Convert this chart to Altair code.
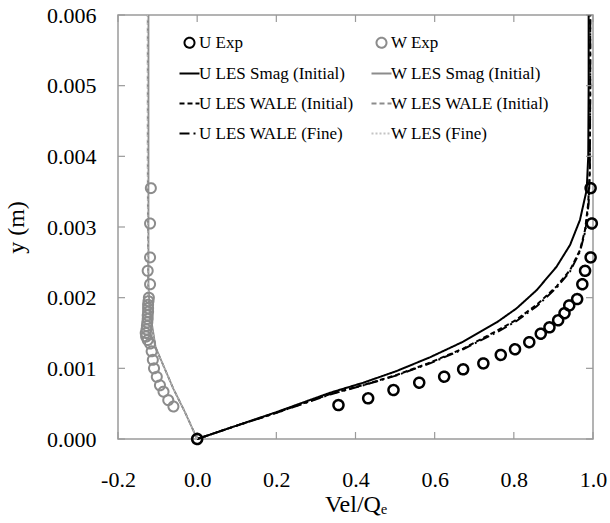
import altair as alt
import pandas as pd

# ---------------- data ----------------
SERIES = ["U Exp", "W Exp",
          "U LES Smag (Initial)", "W LES Smag (Initial)",
          "U LES WALE (Initial)", "W LES WALE (Initial)",
          "U LES WALE (Fine)", "W LES (Fine)"]

X_TICKS = [-0.2, 0.0, 0.2, 0.4, 0.6, 0.8, 1.0]
Y_TICKS = [0.0, 0.001, 0.002, 0.003, 0.004, 0.005, 0.006]

u_exp_x = [0.0, 0.357, 0.432, 0.496, 0.561, 0.624, 0.672, 0.723, 0.767, 0.803, 0.839,
           0.868, 0.890, 0.912, 0.928, 0.940, 0.960, 0.973, 0.980, 0.994, 0.997, 0.994]
u_exp_y = [0.0, 0.00048, 0.000576, 0.000693, 0.000797, 0.000882, 0.000986, 0.00107, 0.00119,
           0.00127, 0.00137, 0.00149, 0.00158, 0.00168, 0.00178, 0.00189, 0.00198, 0.00219,
           0.00238, 0.00257, 0.00305, 0.00355]

w_exp_x = [0.0, -0.060, -0.073, -0.085, -0.094, -0.102, -0.109, -0.112, -0.115, -0.119,
           -0.125, -0.129, -0.130, -0.128, -0.127, -0.126, -0.125, -0.125, -0.124, -0.124,
           -0.124, -0.123, -0.122, -0.119, -0.125, -0.119, -0.119, -0.117]
w_exp_y = [0.0, 0.00046, 0.00055, 0.00067, 0.00076, 0.00088, 0.00100, 0.00112, 0.00124,
           0.00135, 0.00140, 0.00145, 0.00150, 0.00155, 0.00160, 0.00165, 0.00170, 0.00175,
           0.00180, 0.00185, 0.00190, 0.00195, 0.00200, 0.00219, 0.00238, 0.00257, 0.00305,
           0.00355]

u_smag_x = [0.0, 0.1, 0.2, 0.336, 0.420, 0.504, 0.588, 0.672, 0.757, 0.807, 0.858, 0.908,
            0.942, 0.967, 0.984, 0.988, 0.989, 0.989]
u_smag_y = [0.0, 0.00019, 0.00038, 0.000655, 0.000797, 0.000962, 0.001156, 0.001377,
            0.001651, 0.001849, 0.002108, 0.002439, 0.002745, 0.003099, 0.003524, 0.0040,
            0.0050, 0.0060]

u_wale_x = [0.0, 0.1, 0.2, 0.336, 0.420, 0.504, 0.588, 0.672, 0.757, 0.807, 0.858, 0.908,
            0.942, 0.967, 0.980, 0.988, 0.992, 0.993, 0.993]
u_wale_y = [0.0, 0.00019, 0.00037, 0.000637, 0.000764, 0.000906, 0.00108, 0.00128, 0.00153,
            0.00169, 0.00190, 0.00216, 0.00239, 0.00267, 0.00296, 0.00334, 0.00381, 0.0050,
            0.0060]

u_fine_x = [0.0, 0.1, 0.2, 0.336, 0.420, 0.504, 0.588, 0.672, 0.757, 0.807, 0.858, 0.908,
            0.942, 0.967, 0.981, 0.989, 0.992, 0.993, 0.993]
u_fine_y = [0.0, 0.00019, 0.00037, 0.000630, 0.000760, 0.000900, 0.00107, 0.00127, 0.00151,
            0.00167, 0.00188, 0.00214, 0.00237, 0.00265, 0.00295, 0.00333, 0.00380, 0.0050,
            0.0060]

w_smag_x = [0.0, -0.03, -0.06, -0.09, -0.105, -0.115, -0.121, -0.123, -0.123, -0.123]
w_smag_y = [0.0, 0.00037, 0.00071, 0.0011, 0.0013, 0.00165, 0.0019, 0.0022, 0.0040, 0.0060]

w_wale_x = [0.0, -0.03, -0.06, -0.09, -0.106, -0.116, -0.122, -0.124, -0.125, -0.125]
w_wale_y = [0.0, 0.00037, 0.00071, 0.0011, 0.0013, 0.00165, 0.0019, 0.0022, 0.0040, 0.0060]

w_fine_x = [0.0, -0.03, -0.06, -0.09, -0.106, -0.116, -0.122, -0.124, -0.125, -0.125]
w_fine_y = [0.0, 0.00037, 0.00071, 0.0011, 0.0013, 0.00165, 0.0019, 0.0022, 0.0040, 0.0060]

# ---------------- styles ----------------
LINE = "M-2,0L2,0"
COLORS = ["#000000", "#8c8c8c", "#000000", "#8c8c8c", "#000000", "#8c8c8c", "#000000", "#c4c4c4"]
DASHES = [[1, 0], [1, 0], [1, 0], [1, 0], [5, 3], [5, 3], [10, 4, 2, 4], [2, 2]]
SHAPES = ["circle", "circle", LINE, LINE, LINE, LINE, LINE, LINE]
FRAME = "#9a9a9a"
FONT = "Liberation Serif"


def frame(name, xs, ys):
    return pd.DataFrame({"series": name, "x": xs, "y": ys, "idx": range(len(xs))})


u_pts = frame("U Exp", u_exp_x, u_exp_y)
w_pts = frame("W Exp", w_exp_x, w_exp_y)
u_lines = pd.concat([frame("U LES Smag (Initial)", u_smag_x, u_smag_y),
                     frame("U LES WALE (Initial)", u_wale_x, u_wale_y),
                     frame("U LES WALE (Fine)", u_fine_x, u_fine_y)])
w_lines = pd.concat([frame("W LES Smag (Initial)", w_smag_x, w_smag_y),
                     frame("W LES WALE (Initial)", w_wale_x, w_wale_y)])
w_fine = frame("W LES (Fine)", w_fine_x, w_fine_y)

xs = alt.Scale(domain=[-0.2, 1.0], nice=False, zero=False)
ys = alt.Scale(domain=[0.0, 0.006], nice=False, zero=False)

legend = alt.Legend(title=None, orient="none", legendX=63, legendY=19, columns=2,
                    direction="horizontal",
                    columnPadding=13, rowPadding=12, labelFont=FONT, labelFontSize=17,
                    labelOffset=1, labelLimit=400, symbolStrokeWidth=2, symbolSize=100,
                    symbolFillColor="transparent", symbolOpacity=1, padding=0,
                    labelColor="#000000")

stroke_enc = alt.Stroke("series:N", scale=alt.Scale(domain=SERIES, range=COLORS), legend=legend)
dash_enc = alt.StrokeDash("series:N", scale=alt.Scale(domain=SERIES, range=DASHES), legend=legend)
shape_enc = alt.Shape("series:N", scale=alt.Scale(domain=SERIES, range=SHAPES), legend=legend)

x_axis = alt.Axis(
    values=X_TICKS, format=".1f", labelExpr="replace(datum.label, '\u2212', '-')",
    title="Vel/Q\u2091", labelFont=FONT, titleFont=FONT, labelFontSize=22,
    titleFontSize=24, titleFontWeight="normal", labelColor="#000000",
    titleColor="#000000", labelPadding=30, labelFlush=False,
    titlePadding=2, ticks=False, domain=False, grid=False)
y_axis = alt.Axis(
    values=Y_TICKS, format=".3f", title="y (m)", labelFont=FONT, titleFont=FONT,
    labelFontSize=22, titleFontSize=24, titleFontWeight="normal",
    labelColor="#000000", titleColor="#000000", labelFlush=False,
    labelPadding=22, titlePadding=18, ticks=False, domain=False, grid=False)

xp = alt.X("x:Q", scale=xs, axis=x_axis)
yp = alt.Y("y:Q", scale=ys, axis=y_axis)

u_line_layer = alt.Chart(u_lines).mark_line(strokeWidth=2).encode(
    x=xp, y=yp, stroke=stroke_enc, strokeDash=dash_enc, order="idx:Q")
w_line_layer = alt.Chart(w_lines).mark_line(strokeWidth=1.8).encode(
    x=xp, y=yp, stroke=stroke_enc, strokeDash=dash_enc, order="idx:Q")
w_fine_layer = alt.Chart(w_fine).mark_line(strokeWidth=1).encode(
    x=xp, y=yp, stroke=stroke_enc, strokeDash=dash_enc, order="idx:Q")
u_pt_layer = alt.Chart(u_pts).mark_point(filled=False, size=100, strokeWidth=2.5,
                                         opacity=1).encode(
    x=xp, y=yp, stroke=stroke_enc, shape=shape_enc, strokeDash=dash_enc)
w_pt_layer = alt.Chart(w_pts).mark_point(filled=False, size=100, strokeWidth=2,
                                         opacity=1).encode(
    x=xp, y=yp, stroke=stroke_enc, shape=shape_enc, strokeDash=dash_enc)

# inward tick marks on all four sides, placed at the tick values
bx = pd.DataFrame({"x": X_TICKS, "y": 0.0})
tx = pd.DataFrame({"x": X_TICKS, "y": 0.006})
ly = pd.DataFrame({"x": -0.2, "y": Y_TICKS})
ry = pd.DataFrame({"x": 1.0, "y": Y_TICKS})
tick_kw = dict(size=7, thickness=1.2, color=FRAME, opacity=1)
t1 = alt.Chart(bx).mark_tick(orient="vertical", yOffset=-3.5, **tick_kw).encode(x=xp, y=yp)
t2 = alt.Chart(tx).mark_tick(orient="vertical", yOffset=3.5, **tick_kw).encode(x=xp, y=yp)
t3 = alt.Chart(ly).mark_tick(orient="horizontal", xOffset=3.5, **tick_kw).encode(x=xp, y=yp)
t4 = alt.Chart(ry).mark_tick(orient="horizontal", xOffset=-3.5, **tick_kw).encode(x=xp, y=yp)

chart = alt.layer(
    u_line_layer, t1, t2, t3, t4, w_line_layer, w_fine_layer, w_pt_layer, u_pt_layer
).properties(
    width=475, height=424,
    autosize=alt.AutoSizeParams(type="none"),
    padding={"left": 118, "top": 15, "right": 17, "bottom": 84},
    background="white",
).configure_view(
    stroke=FRAME, strokeWidth=1.5
).configure_axis(
    labelFont=FONT, titleFont=FONT, titleFontWeight="normal"
)

chart.save("out.html", embed_options={"renderer": "svg", "actions": False})
